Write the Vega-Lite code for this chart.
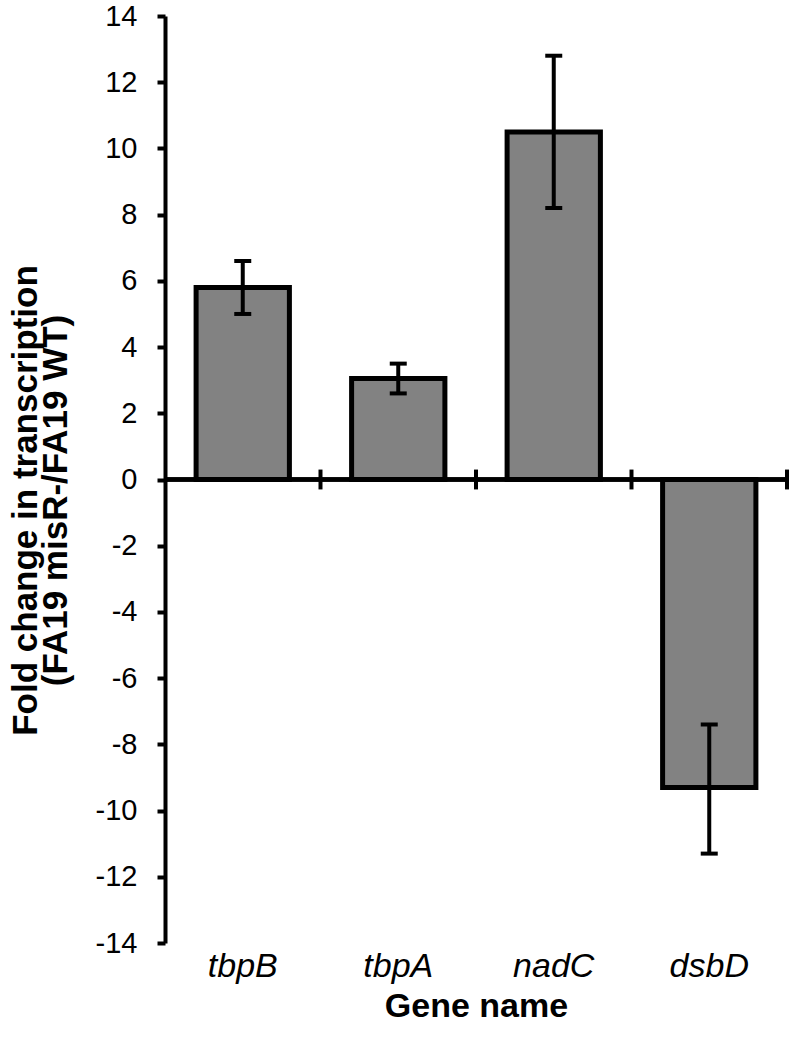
{
  "$schema": "https://vega.github.io/schema/vega-lite/v6.json",
  "width": 622,
  "height": 927,
  "autosize": "none",
  "padding": {"left": 165, "top": 16, "right": 6, "bottom": 107},
  "background": "white",
  "config": {
    "view": {"stroke": null},
    "font": "Liberation Sans",
    "axis": {"grid": false}
  },
  "data": {
    "values": [
      {"gene": "tbpB", "value": 5.8, "lo": 5.0, "hi": 6.6},
      {"gene": "tbpA", "value": 3.05, "lo": 2.6, "hi": 3.5},
      {"gene": "nadC", "value": 10.5, "lo": 8.2, "hi": 12.8},
      {"gene": "dsbD", "value": -9.3, "lo": -11.3, "hi": -7.4}
    ]
  },
  "layer": [
    {
      "mark": {"type": "bar", "fill": "#828282", "stroke": "black", "strokeWidth": 5},
      "encoding": {
        "x": {
          "field": "gene",
          "type": "nominal",
          "sort": null,
          "scale": {"paddingInner": 0.4, "paddingOuter": 0.2},
          "axis": {
            "title": "Gene name",
            "titleFont": "Liberation Sans",
            "titleFontSize": 34,
            "titleFontWeight": "bold",
            "titleColor": "black",
            "titlePadding": 6,
            "labelAngle": 0,
            "labelFont": "Liberation Sans",
            "labelFontSize": 34,
            "labelFontStyle": "italic",
            "labelColor": "black",
            "labelPadding": 6,
            "domain": false,
            "ticks": false
          }
        },
        "y": {
          "field": "value",
          "type": "quantitative",
          "scale": {"domain": [-14, 14], "nice": false, "zero": false},
          "axis": {
            "values": [-14, -12, -10, -8, -6, -4, -2, 0, 2, 4, 6, 8, 10, 12, 14],
            "labelExpr": "'' + datum.value",
            "title": ["Fold change in transcription", "(FA19 misR-/FA19 WT)"],
            "titleFont": "Liberation Sans",
            "titleFontSize": 35,
            "titleFontWeight": "bold",
            "titleColor": "black",
            "titleLineHeight": 30,
            "titlePadding": 22,
            "titleY": 484,
            "labelFont": "Liberation Sans",
            "labelFontSize": 29,
            "labelColor": "black",
            "labelPadding": 20,
            "domainColor": "black",
            "domainWidth": 4,
            "tickColor": "black",
            "tickWidth": 4,
            "tickSize": 8
          }
        },
        "y2": {"datum": 0}
      }
    },
    {
      "mark": {"type": "rule", "color": "black", "strokeWidth": 4},
      "encoding": {"y": {"datum": 0}}
    },
    {
      "mark": {"type": "rule", "color": "black", "strokeWidth": 4},
      "encoding": {
        "x": {"field": "gene", "type": "nominal", "sort": null, "bandPosition": 1.3333},
        "y": {"datum": -0.3},
        "y2": {"datum": 0.3}
      }
    },
    {
      "mark": {"type": "rule", "color": "black", "strokeWidth": 4},
      "encoding": {
        "x": {"field": "gene", "type": "nominal", "sort": null},
        "y": {"field": "lo", "type": "quantitative"},
        "y2": {"field": "hi"}
      }
    },
    {
      "mark": {"type": "tick", "color": "black", "opacity": 1, "thickness": 4, "size": 17, "orient": "horizontal"},
      "encoding": {
        "x": {"field": "gene", "type": "nominal", "sort": null},
        "y": {"field": "lo", "type": "quantitative"}
      }
    },
    {
      "mark": {"type": "tick", "color": "black", "opacity": 1, "thickness": 4, "size": 17, "orient": "horizontal"},
      "encoding": {
        "x": {"field": "gene", "type": "nominal", "sort": null},
        "y": {"field": "hi", "type": "quantitative"}
      }
    }
  ]
}
